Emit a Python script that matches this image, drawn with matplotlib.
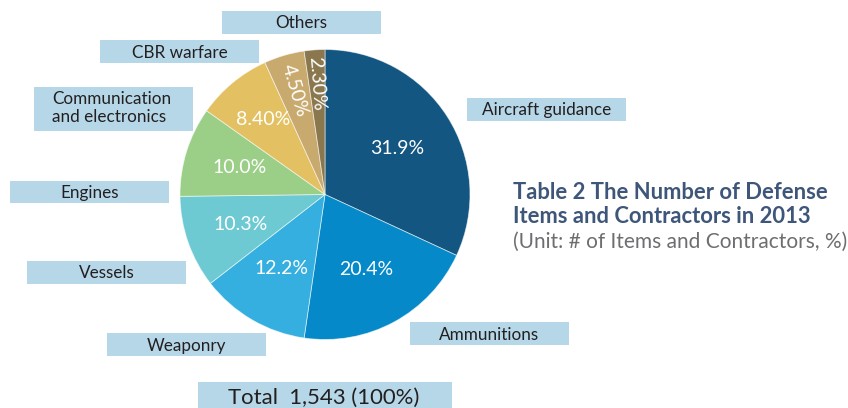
import matplotlib
matplotlib.use("Agg")
import matplotlib.pyplot as plt
from matplotlib.patches import Rectangle
import numpy as np

# ---- data ----
categories = ["Aircraft guidance", "Ammunitions", "Weaponry", "Vessels", "Engines",
              "Communication\nand electronics", "CBR warfare", "Others"]
shares = [31.9, 20.4, 12.2, 10.3, 10.0, 8.40, 4.50, 2.30]
pct_labels = ["31.9%", "20.4%", "12.2%", "10.3%", "10.0%", "8.40%", "4.50%", "2.30%"]
total_items = 1543
title_lines = ["Table 2 The Number of Defense", "Items and Contractors in 2013"]
subtitle = "(Unit: # of Items and Contractors, %)"

# ---- style ----
colors = ["#135682", "#0589c8", "#34afe0", "#6dcad3", "#9bcf88", "#e3c062", "#c8aa6e", "#8a774e"]
box_color = "#b6d7e8"
text_dark = "#231f20"
title_color = "#3d5679"
sub_color = "#6d6e71"
W, H = 848, 408
FONT = "Lato"

# label box geometry in pixel coords (x0, y0 top, x1, y1 bottom), image coordinates
boxes = [(467, 98, 626, 121), (410, 322, 569, 345), (107, 333, 266, 356), (27, 261, 186, 284),
         (10, 181, 169, 203), (34, 87, 193, 131), (100, 40, 259, 63), (222, 11, 381, 34)]
label_r = [0.59, 0.59, 0.59, 0.62, 0.62, 0.67, 0.745, 0.765]
rotated = [False, False, False, False, False, False, True, True]

def Y(y):
    return H - y

fig = plt.figure(figsize=(W / 100, H / 100), dpi=100)
ax = fig.add_axes([0, 0, 1, 1])
ax.set_xlim(0, W)
ax.set_ylim(0, H)
ax.set_aspect("equal")
ax.axis("off")

cx, cy, R = 325, Y(194.5), 145
wedges, _ = ax.pie(shares, colors=colors, startangle=90, counterclock=False,
                   center=(cx, cy), radius=R, frame=True,
                   wedgeprops=dict(edgecolor=(1, 1, 1, 0.6), linewidth=0.6))
ax.set_xlim(0, W)
ax.set_ylim(0, H)
ax.axis("off")

for w, lab, rf, rot in zip(wedges, pct_labels, label_r, rotated):
    mid = np.deg2rad((w.theta1 + w.theta2) / 2)
    x = cx + rf * R * np.cos(mid)
    y = cy + rf * R * np.sin(mid)
    angle = np.rad2deg(mid) - 180 if rot else 0
    ax.text(x, y, lab, color="white", fontsize=14, family=FONT,
            ha="center", va="center", rotation=angle, rotation_mode="anchor")

LFS = 12.3
for (x0, y0, x1, y1), name in zip(boxes, categories):
    ax.add_patch(Rectangle((x0, Y(y1)), x1 - x0, y1 - y0, facecolor=box_color, edgecolor="none"))
    if "\n" in name:
        l1, l2 = name.split("\n")
        ax.text(x0 + 18, Y(104.3), l1, color=text_dark, fontsize=LFS, family=FONT, ha="left", va="baseline")
        ax.text(x0 + 18, Y(122.5), l2, color=text_dark, fontsize=LFS, family=FONT, ha="left", va="baseline")
    else:
        ax.text((x0 + x1) / 2, Y((y0 + y1) / 2 + 6.0), name, color=text_dark, fontsize=LFS,
                family=FONT, ha="center", va="baseline")

# total box
ax.add_patch(Rectangle((198, Y(410)), 254, 410 - 381.5, facecolor=box_color, edgecolor="none"))
ax.text(324, Y(404), f"Total  {total_items:,} (100%)", color=text_dark, fontsize=15.9,
        family=FONT, ha="center", va="baseline")

# title block
ax.text(513, Y(199), title_lines[0], color=title_color, fontsize=15.8, fontweight="bold",
        family=FONT, ha="left", va="baseline")
ax.text(513, Y(223), title_lines[1], color=title_color, fontsize=15.8, fontweight="bold",
        family=FONT, ha="left", va="baseline")
ax.text(513, Y(248), subtitle, color=sub_color, fontsize=15, family=FONT, ha="left", va="baseline")

fig.savefig("out.png", dpi=100, facecolor="white")
